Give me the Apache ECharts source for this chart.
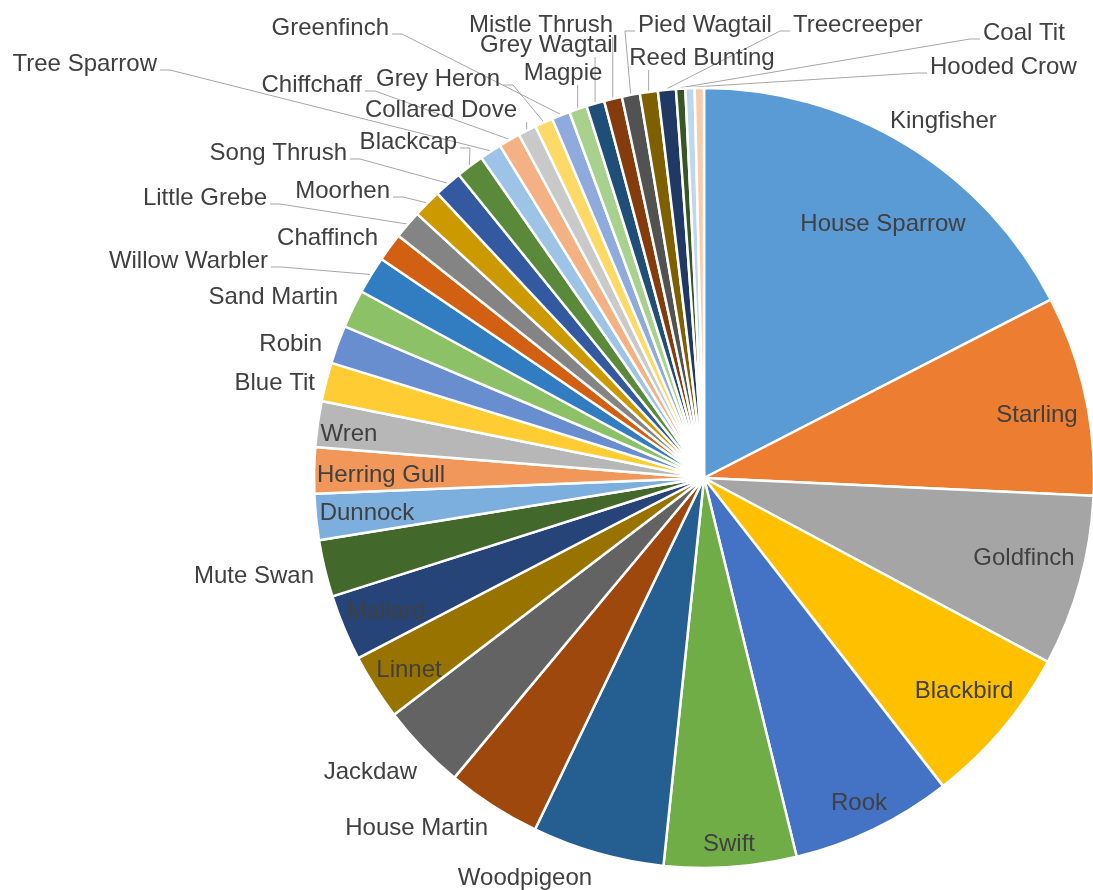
<!DOCTYPE html>
<html>
<head>
<meta charset="utf-8">
<script src="https://cdn.jsdelivr.net/npm/echarts@6/dist/echarts.min.js"></script>
<style>
    html, body { margin: 0; padding: 0; background: #fff; }
    #bird_chart { width: 1093px; height: 890px; }
</style>
</head>
<body>
<div id="bird_chart"></div>
<script>
/* 종별 비율 (시계방향, 12시 방향부터) */
var birds = ['House Sparrow', 'Starling', 'Goldfinch', 'Blackbird', 'Rook', 'Swift', 'Woodpigeon',
    'House Martin', 'Jackdaw', 'Linnet', 'Mallard', 'Mute Swan', 'Dunnock', 'Herring Gull', 'Wren',
    'Blue Tit', 'Robin', 'Sand Martin', 'Willow Warbler', 'Chaffinch', 'Little Grebe', 'Moorhen',
    'Song Thrush', 'Blackcap', 'Tree Sparrow', 'Chiffchaff', 'Collared Dove', 'Grey Heron',
    'Greenfinch', 'Magpie', 'Grey Wagtail', 'Mistle Thrush', 'Pied Wagtail', 'Reed Bunting',
    'Treecreeper', 'Coal Tit', 'Hooded Crow', 'Kingfisher'];
var shares = [17.35, 8.25, 7.05, 6.65, 6.65, 5.45, 5.45,
    3.9, 3.55, 2.72, 2.72, 2.35, 1.9, 1.9, 1.88,
    1.6, 1.58, 1.57, 1.55, 1.17, 1.17, 1.17,
    1.15, 1.15, 0.9, 0.89, 0.75, 0.75,
    0.75, 0.74, 0.74, 0.74, 0.74, 0.74,
    0.74, 0.38, 0.38, 0.38];

var color_list = ['#5B9BD5', '#ED7D31', '#A5A5A5', '#FFC000', '#4472C4', '#70AD47',
    '#255E91', '#9E480E', '#636363', '#997300', '#264478', '#43682B',
    '#7CAFDD', '#F1975A', '#B7B7B7', '#FFCD33', '#698ED0', '#8CC168',
    '#327DC2', '#D26012', '#848484', '#CC9A00', '#335AA1', '#5A8A39',
    '#9DC3E6', '#F4B183', '#C9C9C9', '#FFD966', '#8FAADC', '#A9D18E',
    '#1F4E79', '#843C0C', '#525252', '#7F6000', '#203864', '#375623',
    '#BDD7EE', '#F8CBAD'];

/* 라벨 위치 [x, y, 정렬, 지시선] */
var labelSpots = {
    'House Sparrow': [883, 224, 'center', 0],
    'Starling': [1037, 415, 'center', 0],
    'Goldfinch': [1024, 558, 'center', 0],
    'Blackbird': [964, 691, 'center', 0],
    'Rook': [859, 803, 'center', 0],
    'Swift': [729, 844, 'center', 0],
    'Woodpigeon': [525, 878, 'center', 0],
    'House Martin': [488, 828, 'right', 0],
    'Jackdaw': [417, 772, 'right', 0],
    'Linnet': [409, 670, 'center', 0],
    'Mallard': [386, 612, 'center', 0],
    'Mute Swan': [314, 576, 'right', 0],
    'Dunnock': [367, 513, 'center', 0],
    'Herring Gull': [381, 475, 'center', 0],
    'Wren': [349, 434, 'center', 0],
    'Blue Tit': [315, 383, 'right', 0],
    'Robin': [322, 344, 'right', 0],
    'Sand Martin': [338, 297, 'right', 0],
    'Willow Warbler': [268, 261, 'right', 'h'],
    'Chaffinch': [378, 238, 'right', 0],
    'Little Grebe': [267, 198, 'right', 'h'],
    'Moorhen': [390, 191, 'right', 'h'],
    'Song Thrush': [347, 153, 'right', 'h'],
    'Blackcap': [457, 142, 'right', 'h'],
    'Tree Sparrow': [157, 64, 'right', 'h'],
    'Chiffchaff': [362, 85, 'right', 'h'],
    'Collared Dove': [517, 110, 'right', 'v'],
    'Grey Heron': [500, 79, 'right', 'h'],
    'Greenfinch': [389, 28, 'right', 'h'],
    'Magpie': [563, 73, 'center', 'v'],
    'Grey Wagtail': [549, 45, 'center', 'v'],
    'Mistle Thrush': [541, 25, 'center', 'v'],
    'Pied Wagtail': [638, 25, 'left', 'h'],
    'Reed Bunting': [702, 58, 'center', 'v'],
    'Treecreeper': [793, 25, 'left', 'h'],
    'Coal Tit': [983, 33, 'left', 'h'],
    'Hooded Crow': [930, 67, 'left', 'h'],
    'Kingfisher': [890, 121, 'left', 0]
};

var cx = 704, cy = 478, R = 390;

// 각 조각 중앙 각도 (지시선 시작점 계산용)
var total = shares.reduce(function (a, b) { return a + b; }, 0);
var midAngles = [];
var acc = 0;
shares.forEach(function (v) {
    midAngles.push((acc + v / 2) / total * Math.PI * 2);
    acc += v;
});

function edgePoint(idx) {
    var a = midAngles[idx];
    return [cx + (R + 1) * Math.sin(a), cy - (R + 1) * Math.cos(a)];
}

var data = [];
birds.forEach(function (name, i) {
    data.push({
        name: name,
        value: shares[i],
        itemStyle: { color: color_list[i] },
        labelLine: { show: !!labelSpots[name][3] }
    });
});

var bird_chart = document.getElementById('bird_chart');
var bird_myChart = echarts.init(bird_chart);

option = {
    animation: false,
    series: [
        {
            type: 'pie',
            center: [cx, cy],
            radius: R,
            startAngle: 90,
            clockwise: true,
            avoidLabelOverlap: false,
            data: data,
            itemStyle: {
                borderColor: '#ffffff',
                borderWidth: 2.5
            },
            label: {
                show: true,
                position: 'outside',
                formatter: '{b}',
                color: '#404040',
                fontSize: 24,
                fontFamily: "'Liberation Sans', Arial, sans-serif"
            },
            labelLine: {
                show: true,
                length: 6,
                length2: 6,
                lineStyle: { color: '#a6a6a6', width: 1 }
            },
            labelLayout: function (params) {
                var spot = labelSpots[birds[params.dataIndex]];
                var out = { x: spot[0], y: spot[1], align: spot[2], verticalAlign: 'middle' };
                if (spot[3]) {
                    var p0 = edgePoint(params.dataIndex);
                    var end, elbow;
                    if (spot[3] == 'v') {
                        end = [p0[0], spot[1] + 12];
                        elbow = end;
                    } else if (spot[2] == 'right') {
                        end = [spot[0] + 3, spot[1] + 6];
                        elbow = [spot[0] + 13, spot[1] + 6];
                    } else {
                        end = [spot[0] - 3, spot[1] + 6];
                        elbow = [spot[0] - 13, spot[1] + 6];
                    }
                    out.labelLinePoints = [p0, elbow, end];
                }
                return out;
            }
        }
    ]
};

option && bird_myChart.setOption(option);
</script>
</body>
</html>
